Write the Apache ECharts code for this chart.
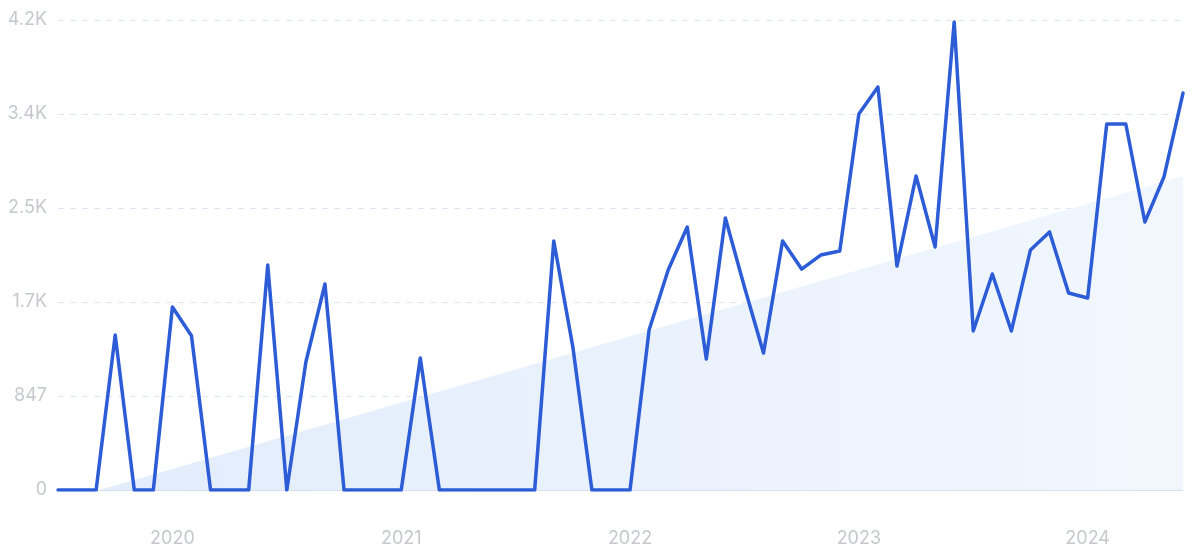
<!DOCTYPE html>
<html>
<head>
<meta charset="utf-8">
<script src="https://cdn.jsdelivr.net/npm/echarts@6/dist/echarts.min.js"></script>
<style>
html,body{margin:0;padding:0;background:#fff;}
#chart{width:1200px;height:555px;}
</style>
</head>
<body>
<div id="chart"></div>
<script>
var months = [
 "2019-07","2019-08","2019-09","2019-10","2019-11","2019-12",
 "2020-01","2020-02","2020-03","2020-04","2020-05","2020-06","2020-07","2020-08","2020-09","2020-10","2020-11","2020-12",
 "2021-01","2021-02","2021-03","2021-04","2021-05","2021-06","2021-07","2021-08","2021-09","2021-10","2021-11","2021-12",
 "2022-01","2022-02","2022-03","2022-04","2022-05","2022-06","2022-07","2022-08","2022-09","2022-10","2022-11","2022-12",
 "2023-01","2023-02","2023-03","2023-04","2023-05","2023-06","2023-07","2023-08","2023-09","2023-10","2023-11","2023-12",
 "2024-01","2024-02","2024-03","2024-04","2024-05","2024-06"
];
var volumes = [
 0,0,0,1397,0,0,
 1649,1390,0,0,0,2027,0,1153,1856,0,0,0,
 0,1189,0,0,0,0,0,0,2244,1290,0,0,
 0,1442,1982,2370,1180,2451,1829,1234,2244,1991,2117,2153,
 3388,3631,2018,2829,2190,4217,1433,1946,1433,2163,2325,1775,
 1730,3298,3298,2415,2820,3577
];
var trendStart = -109;
var trendEnd = 2829;
var yTicks = [0, 847, 1694, 2541, 3388, 4235];

var chart = echarts.init(document.getElementById('chart'));
var labelColor = '#c5c8cd';
chart.setOption({
  animation: false,
  grid: {left: 58, right: 17, top: 20, bottom: 65, containLabel: false},
  xAxis: {
    type: 'category',
    data: months,
    boundaryGap: false,
    axisLine: {show: true, lineStyle: {color: '#d6e0f0', width: 1}},
    axisTick: {show: false},
    splitLine: {show: false},
    axisLabel: {
      color: labelColor,
      fontFamily: 'Inter',
      fontSize: 18,
      margin: 40,
      interval: function (idx, val) { return val.slice(5) === '01'; },
      formatter: function (val) { return val.slice(0, 4); }
    }
  },
  yAxis: {
    type: 'value',
    min: yTicks[0],
    max: yTicks[yTicks.length - 1],
    interval: yTicks[1] - yTicks[0],
    axisLine: {show: false},
    axisTick: {show: false},
    splitLine: {show: true, lineStyle: {color: '#dfe6f3', type: [6, 6], width: 1}},
    axisLabel: {
      color: labelColor,
      fontFamily: 'Inter',
      fontSize: 18,
      margin: 11,
      formatter: function (v) { return v < 1000 ? String(v) : (v / 1000).toFixed(1) + 'K'; }
    }
  },
  series: [
    {
      type: 'line',
      data: [[months[0], trendStart], [months[months.length - 1], trendEnd]],
      symbol: 'none',
      lineStyle: {width: 0, opacity: 0},
      areaStyle: {
        opacity: 1,
        color: new echarts.graphic.LinearGradient(0, 0, 1, 0, [
          {offset: 0, color: '#e1ecfb'},
          {offset: 1, color: '#f2f7fe'}
        ])
      },
      z: 1,
      silent: true
    },
    {
      type: 'line',
      data: volumes,
      symbol: 'none',
      lineStyle: {color: '#2d5cd7', width: 3.5, join: 'round', cap: 'round'},
      z: 3
    }
  ]
});
</script>
</body>
</html>
